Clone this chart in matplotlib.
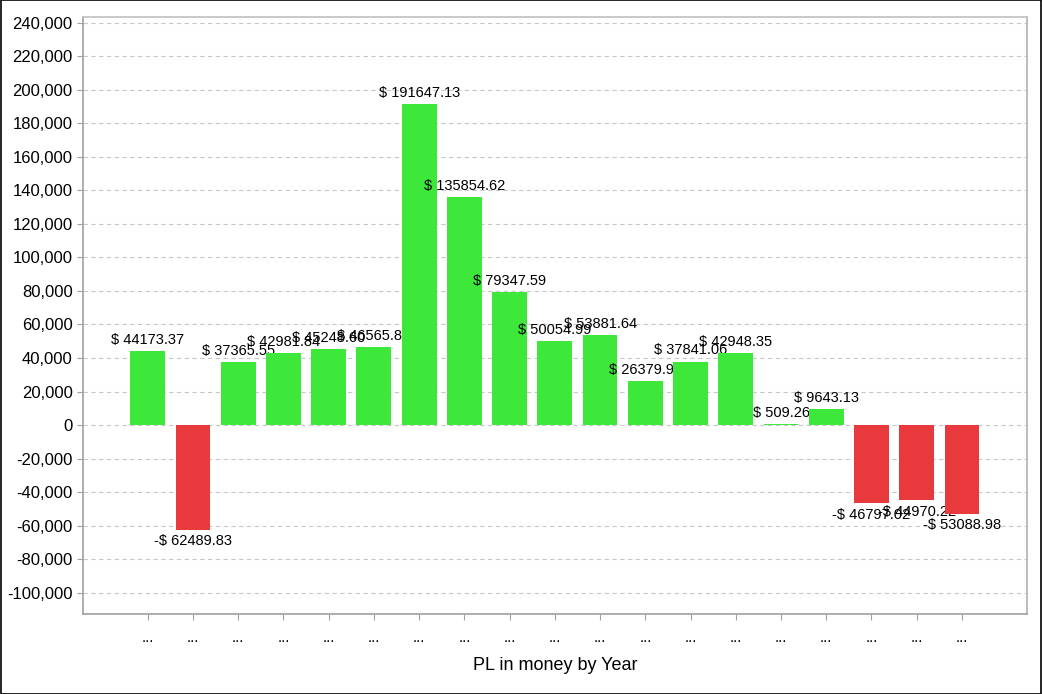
import matplotlib.pyplot as plt
from matplotlib.ticker import FuncFormatter
from matplotlib.patches import Rectangle

# ---------------------------------------------------------
# DATA
# ---------------------------------------------------------
years = ["..."] * 19
pl_values = [
    44173.37, -62489.83, 37365.55, 42981.84, 45248.60, 46565.80,
    191647.13, 135854.62, 79347.59, 50054.99, 53881.64, 26379.90,
    37841.06, 42948.35, 509.26, 9643.13, -46797.02, -44970.22, -53088.98,
]

GREEN = "#3de83b"
RED = "#e8393c"

plt.rcParams["font.family"] = ["Liberation Sans", "DejaVu Sans"]

fig = plt.figure(figsize=(10.42, 6.94), dpi=100)
ax = fig.add_axes([0.0797, 0.1153, 0.906, 0.8595])

x = list(range(len(pl_values)))

# each bar is drawn after the previous label, so later bars cover labels
for i, (xi, v) in enumerate(zip(x, pl_values)):
    col = GREEN if v >= 0 else RED
    ax.bar(xi, v, width=0.77, color=col, zorder=3 + 2 * i)
    if v >= 0:
        txt = f"$ {v:.2f}"
        ax.annotate(txt, (xi, v), xytext=(0, 3), textcoords="offset points",
                    ha="center", va="bottom", fontsize=10.5, zorder=4 + 2 * i)
    else:
        txt = f"-$ {abs(v):.2f}"
        ax.annotate(txt, (xi, v), xytext=(0, -3), textcoords="offset points",
                    ha="center", va="top", fontsize=10.5, zorder=4 + 2 * i)

ax.set_xlim(-1.43, 19.44)
ax.set_ylim(-112700, 243100)
ax.set_yticks(range(-100000, 240001, 20000))
ax.yaxis.set_major_formatter(FuncFormatter(lambda v, p: f"{int(v):,}"))
ax.set_xticks(x)
ax.set_xticklabels(years)

ax.grid(axis="y", linestyle=(0, (4, 3)), color="#c8c8c8", linewidth=0.8, zorder=0)
ax.set_axisbelow(True)

for side in ["left", "bottom", "top", "right"]:
    ax.spines[side].set_color("#a0a0a0")
    ax.spines[side].set_linewidth(1.2)
ax.spines["top"].set_color("#c0c0c0")
ax.spines["right"].set_color("#b0b0b0")

ax.tick_params(axis="y", labelsize=12, color="#a0a0a0", length=4)
ax.tick_params(axis="x", labelsize=11, color="#a0a0a0", length=4, pad=8)

ax.set_xlabel("PL in money by Year", fontsize=13, labelpad=9)

# black outer frame
fig.patches.append(Rectangle((0.0005, 0.0007), 0.999, 0.9986, transform=fig.transFigure,
                             fill=False, edgecolor="black", linewidth=1.2))

fig.savefig("out.png", dpi=100)
